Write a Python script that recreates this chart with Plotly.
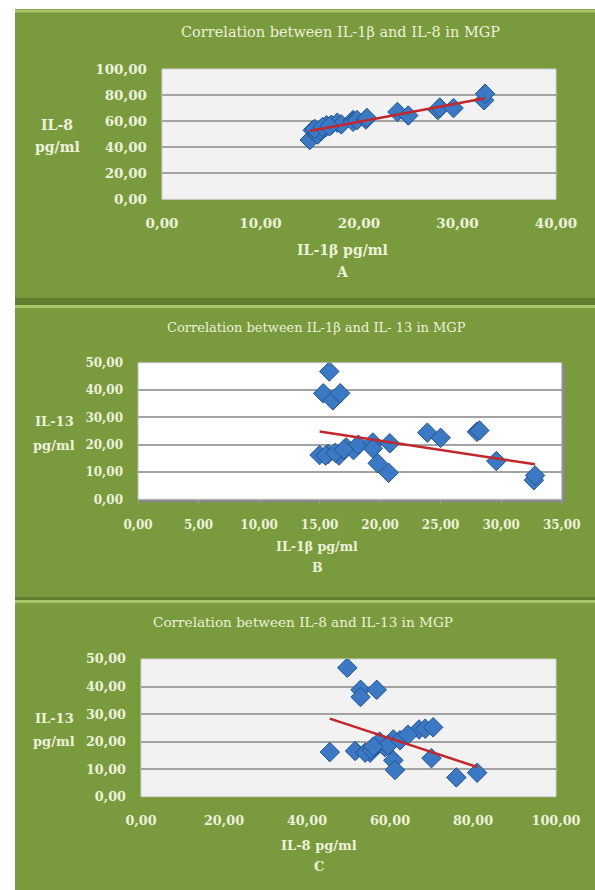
import numpy as np
import plotly.graph_objects as go

# ---- data ----
il1b = [15.0, 15.3, 15.7, 15.8, 16.1, 16.6, 16.7, 17.2, 17.8, 18.2, 19.4,
        19.4, 19.8, 20.7, 20.8, 23.9, 25.0, 28.0, 28.2, 29.6, 32.7, 32.8,
        15.5, 16.3, 17.0]
il8 = [45.5, 52.9, 51.6, 49.7, 52.9, 55.2, 56.8, 57.2, 58.8, 57.5, 60.8,
       59.5, 60.8, 61.2, 62.4, 67.0, 64.3, 68.5, 70.4, 70.0, 76.0, 81.0,
       54.0, 55.5, 56.0]
il13 = [16.2, 38.8, 16.6, 46.8, 36.2, 16.0, 38.8, 19.0, 18.0, 20.0, 20.8,
        18.6, 13.2, 9.7, 20.5, 24.4, 22.5, 24.7, 25.2, 14.0, 7.0, 8.7,
        16.0, 17.0, 18.2]

titles = ["Correlation between IL-1\u03b2 and IL-8 in MGP",
          "Correlation between IL-1\u03b2 and IL- 13 in MGP",
          "Correlation between IL-8 and IL-13 in MGP"]
xtitles = ["IL-1\u03b2 pg/ml", "IL-1\u03b2 pg/ml", "IL-8 pg/ml"]
ytitles = [("IL-8", "pg/ml"), ("IL-13", "pg/ml"), ("IL-13", "pg/ml")]
letters = ["A", "B", "C"]
xranges = [(0, 40, 10), (0, 35, 5), (0, 100, 20)]
yranges = [(0, 100, 20), (0, 50, 10), (0, 50, 10)]

W, H = 595, 890
GREEN = "#799a3d"
TXT = "#ecf1da"
FONT = "DejaVu Serif"

def px(x):
    return x / W

def py(y):
    return 1 - y / H

# panel geometry in pixels: plot area (left, top, right, bottom)
plots = [(162, 69, 556, 199.3), (138, 362.7, 561.7, 499.3), (141, 659, 556, 796.7)]
panels = [(15, 9.5, 595, 298), (15, 305, 595, 597), (15, 600, 595, 890)]
title_pos = [(340, 32), (316, 327), (303, 622)]
xt_pos = [(343, 250, 272), (317, 546, 567), (319, 845, 866)]
yt_pos = [(57, 125, 147), (54, 421.7, 445), (54, 718, 741)]
title_sz = [14.5, 13, 13.6]
tick_sz = [13.5, 12, 12.8]
xt_sz = [14, 12.6, 13]
yt_sz = [14, 13, 13]
pairs = [(il1b, il8), (il1b, il13), (il8, il13)]

fig = go.Figure()
shapes = []
annotations = []

shapes.append(dict(type="rect", xref="paper", yref="paper", x0=px(15), x1=1,
                   y0=py(890), y1=py(9), fillcolor="#5f7e2f", line_width=0, layer="below"))

for i in range(3):
    L, T, R, B = plots[i]
    pl, pt, pr, pb = panels[i]
    shapes.append(dict(type="rect", xref="paper", yref="paper", x0=px(pl), x1=px(pr),
                       y0=py(pb), y1=py(pt), fillcolor=GREEN, line_width=0, layer="below"))
    shapes.append(dict(type="rect", xref="paper", yref="paper", x0=px(pl), x1=px(pr),
                       y0=py(pt + 3), y1=py(pt), fillcolor="#a8c76a", line_width=0, layer="below"))
    if i == 1:
        shapes.append(dict(type="rect", xref="paper", yref="paper", x0=px(L + 2), x1=px(R + 3),
                           y0=py(B + 3), y1=py(T + 2), fillcolor="#8a8a8a", line_width=0, layer="below"))
        shapes.append(dict(type="rect", xref="paper", yref="paper", x0=px(L), x1=px(R),
                           y0=py(B), y1=py(T), fillcolor="#ffffff",
                           line=dict(color="#bdbdbd", width=1), layer="below"))
    else:
        shapes.append(dict(type="rect", xref="paper", yref="paper", x0=px(L), x1=px(R),
                           y0=py(B), y1=py(T), fillcolor="#f2f2f2",
                           line=dict(color="#d0d0d0", width=1), layer="below"))

    xa = "x" if i == 0 else f"x{i+1}"
    ya = "y" if i == 0 else f"y{i+1}"
    xs, ys = pairs[i]
    fig.add_trace(go.Scatter(x=xs, y=ys, mode="markers", xaxis=xa, yaxis=ya,
                             marker=dict(symbol="diamond", size=15, color="#3c79c4",
                                         line=dict(color="#22528f", width=1)),
                             showlegend=False))
    k, b0 = np.polyfit(np.array(xs), np.array(ys), 1)
    lx = np.array([min(xs), max(xs)])
    fig.add_trace(go.Scatter(x=lx, y=k * lx + b0, mode="lines", xaxis=xa, yaxis=ya,
                             line=dict(color="#c3262b", width=2.5), showlegend=False))

    x0, x1, dx = xranges[i]
    y0, y1, dy = yranges[i]
    tf = dict(family=FONT, size=tick_sz[i], color=TXT, weight="bold")
    axx = dict(domain=[px(L), px(R)], range=[x0, x1], dtick=dx, tick0=0, showgrid=False,
               zeroline=False, showline=False, tickformat=".2f", ticks="", automargin=False,
               ticklabelstandoff=14, tickfont=tf, anchor=ya, fixedrange=True)
    axy = dict(domain=[py(B), py(T)], range=[y0, y1], dtick=dy, tick0=0, showgrid=True,
               gridcolor="#a3a3a3", gridwidth=1.5, zeroline=False, showline=False,
               tickformat=".2f", ticks="", ticklabelstandoff=14, automargin=False,
               tickfont=tf, anchor=xa, fixedrange=True)
    if i == 1:
        axx.update(ticks="outside", ticklen=4, tickcolor="#9a9a9a", ticklabelstandoff=10)
    key = "" if i == 0 else str(i + 1)
    fig.layout["xaxis" + key] = axx
    fig.layout["yaxis" + key] = axy

    tx, ty = title_pos[i]
    annotations.append(dict(text=titles[i], x=px(tx), y=py(ty), xref="paper", yref="paper",
                            showarrow=False, xanchor="center", yanchor="middle",
                            font=dict(family=FONT, size=title_sz[i], color=TXT)))
    cx, ty1, ty2 = xt_pos[i]
    bf = dict(family=FONT, size=xt_sz[i], color=TXT, weight="bold")
    annotations.append(dict(text=xtitles[i], x=px(cx), y=py(ty1), xref="paper", yref="paper",
                            showarrow=False, xanchor="center", yanchor="middle", font=bf))
    annotations.append(dict(text=letters[i], x=px(cx), y=py(ty2), xref="paper",
                            yref="paper", showarrow=False, xanchor="center", yanchor="middle",
                            font=bf))
    yx, yy1, yy2 = yt_pos[i]
    yf = dict(family=FONT, size=yt_sz[i], color=TXT, weight="bold")
    annotations.append(dict(text=ytitles[i][0], x=px(yx), y=py(yy1), xref="paper", yref="paper",
                            showarrow=False, xanchor="center", yanchor="middle", font=yf))
    annotations.append(dict(text=ytitles[i][1], x=px(yx), y=py(yy2), xref="paper", yref="paper",
                            showarrow=False, xanchor="center", yanchor="middle", font=yf))

fig.update_layout(width=W, height=H, margin=dict(l=0, r=0, t=0, b=0, autoexpand=False),
                  paper_bgcolor="#ffffff", plot_bgcolor="rgba(0,0,0,0)",
                  separators=", ", shapes=shapes, annotations=annotations,
                  showlegend=False)

fig.write_html("out.html", config={"displayModeBar": False},
               post_script="document.body.style.margin='0';document.body.style.overflow='hidden';")
